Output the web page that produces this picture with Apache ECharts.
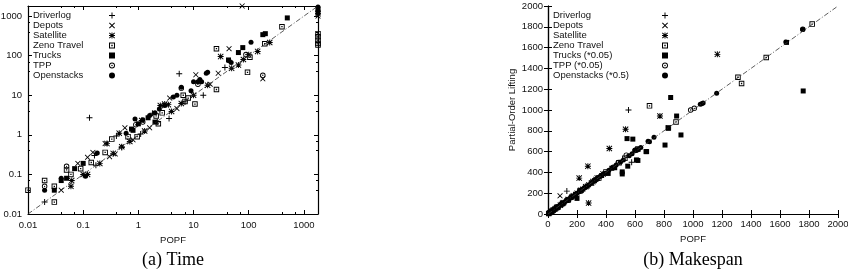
<!DOCTYPE html>
<html>
<head>
<meta charset="utf-8">
<title>POPF vs Partial-Order Lifting</title>
<script src="https://cdn.jsdelivr.net/npm/echarts@6/dist/echarts.min.js"></script>
<style>
  html, body { margin: 0; padding: 0; background: #fff; }
  #chart { width: 848px; height: 270px; }
</style>
</head>
<body>
<div id="chart"></div>
<script>
// (a) Time in seconds, pairs are [POPF, Partial-Order Lifting]
var timeDriverlog = [[0.02,0.02],[0.13,2.7],[0.16,0.3],[0.17,0.17],[0.4,0.94],[0.5,0.48],[1.1,1.05],[1.8,3.5],[2.2,2.1],[3.6,2.6],[5.5,35],[7,6.8],[15,10],[37,50]]
var timeDepots = [[0.04,0.04],[0.08,0.19],[0.12,0.27],[0.15,0.36],[0.25,0.6],[0.3,0.28],[0.38,0.33],[0.57,1.5],[0.8,0.75],[1.6,1.5],[3.7,8.5],[5,4.6],[11,33],[20,19],[28,36],[44,150],[76,1800],[180,26],[1800,1000]]
var timeSatellite = [[0.06,0.05],[0.062,0.07],[0.1,0.1],[0.12,0.1],[0.2,0.19],[0.27,0.6],[0.35,0.34],[0.45,1.1],[0.5,0.5],[0.7,0.68],[1.15,2.3],[1.3,1.25],[2.5,5.5],[3,6],[3.5,5.8],[4,3.9],[6,6.2],[10,10],[18,18],[31,95],[49,48],[65,58],[80,80],[100,105],[145,128],[240,215],[1800,1150]]
var timeZeno = [[0.01,0.04],[0.03,0.02],[0.02,0.07],[0.03,0.05],[0.05,0.13],[0.06,0.1],[0.09,0.14],[0.14,0.2],[0.25,0.36],[0.33,0.78],[0.65,0.9],[0.95,0.9],[2.1,3],[2.3,1.9],[2.7,3.6],[6.5,10],[7,7],[8,8.5],[10.6,6],[26,14],[26,150],[95,38],[105,91],[195,200],[400,540],[1800,360],[1800,300],[1800,245],[1800,203],[1800,185]]
var timeTrucks = [[0.03,0.04],[0.04,0.07],[0.05,0.08],[0.07,0.14],[0.1,0.19],[0.75,1.4],[0.8,1.3],[1,1.9],[1.5,2.7],[2,2.1],[43,78],[65,120],[78,160],[180,340],[200,360],[500,900],[1800,1260],[1800,1500]]
var timeTPP = [[0.02,0.05],[0.05,0.16],[0.9,1.8],[1.2,2.1],[6,15],[12,19],[89,107],[180,32]]
var timeOpenstacks = [[0.02,0.04],[0.04,0.08],[0.11,0.09],[0.18,0.35],[0.6,1.1],[0.87,2.5],[1.2,2.4],[1.6,3.1],[2,3.6],[2.4,4.5],[3,5.5],[4.3,9],[5,10],[6,16],[9,13],[10,22],[12,22],[13,25],[14,22],[17,36],[18,38],[44,74],[48,67],[110,220],[1800,1700]]

// (b) Makespan, pairs are [POPF, Partial-Order Lifting]
var spanDriverlog = [[8,9],[18,18],[30,32],[45,44],[60,60],[75,77],[80,70],[95,94],[120,118],[130,220],[150,152],[180,178],[210,212],[250,246],[300,300],[350,352],[555,1000],[577,497]]
var spanDepots = [[12,12],[25,24],[40,42],[55,55],[70,68],[83,175],[90,92],[110,110],[135,133],[165,168],[200,202],[240,240],[280,282],[330,333]]
var spanSatellite = [[20,20],[35,36],[50,50],[65,66],[85,84],[105,107],[140,140],[175,175],[215,345],[225,228],[260,262],[275,460],[280,105],[310,312],[340,345],[380,385],[423,630],[535,815],[772,942],[1168,1535]]
var spanZeno = [[5,5],[28,28],[60,62],[100,100],[140,138],[220,220],[300,298],[350,345],[400,405],[490,492],[530,535],[620,625],[700,1040],[830,830],[883,885],[1310,1315],[1335,1255],[1505,1505],[1822,1826]]
var spanTrucks = [[10,10],[22,22],[45,45],[70,70],[100,100],[130,130],[160,158],[190,190],[200,150],[230,228],[270,268],[320,320],[370,370],[415,390],[440,440],[460,445],[512,405],[512,385],[545,725],[550,460],[585,720],[610,520],[620,515],[676,600],[680,600],[807,663],[830,825],[846,1120],[887,942],[917,760],[1645,1650],[1760,1183]]
var spanTPP = [[15,15],[40,40],[95,95],[165,165],[250,250],[330,330],[450,450],[485,495],[540,565],[600,610],[610,612],[984,1000],[1009,1016],[1757,1776]]
var spanOpenstacks = [[3,3],[6,6],[12,13],[18,19],[24,25],[32,33],[38,38],[48,48],[55,56],[62,63],[72,72],[82,82],[92,92],[102,103],[115,115],[125,125],[145,145],[155,155],[170,170],[185,186],[200,200],[215,215],[235,235],[255,255],[280,280],[300,300],[320,322],[340,340],[360,360],[385,387],[400,395],[420,420],[445,445],[470,470],[500,500],[520,520],[560,560],[580,580],[600,615],[620,620],[640,640],[690,700],[700,695],[731,737],[1050,1055],[1060,1060],[1070,1068],[1163,1160],[1640,1655],[1757,1775]]

var namesTime = ['Driverlog', 'Depots', 'Satellite', 'Zeno Travel', 'Trucks', 'TPP', 'Openstacks']
var namesSpan = ['Driverlog', 'Depots', 'Satellite', 'Zeno Travel', 'Trucks (*0.05)', 'TPP (*0.05)', 'Openstacks (*0.5)']
var timeRange = [0.01, 1800]
var spanRange = [0, 2000]
var spanStep = 200

var FONT = '"Liberation Sans", Arial, Helvetica, sans-serif'

// gnuplot-like point types, drawn as filled outlines in a 10x10 box
var PLUS = 'M4.2,0H5.8V4.2H10V5.8H5.8V10H4.2V5.8H0V4.2H4.2Z'
var CROSS = 'M0,1.1L1.1,0L5,3.9L8.9,0L10,1.1L6.1,5L10,8.9L8.9,10L5,6.1L1.1,10L0,8.9L3.9,5Z'
var symbols = [
  'path://' + PLUS,
  'path://' + CROSS,
  'path://' + CROSS + PLUS,
  'path://M0,0H10V10H0Z M1.7,1.7V8.3H8.3V1.7Z M3.8,3.8H6.2V6.2H3.8Z',
  'rect',
  'path://M5,0A5,5,0,0,1,5,10A5,5,0,0,1,5,0Z M5,1.6A3.4,3.4,0,0,0,5,8.4A3.4,3.4,0,0,0,5,1.6Z M5,3.8A1.2,1.2,0,0,1,5,6.2A1.2,1.2,0,0,1,5,3.8Z',
  'circle'
]
var sizes = [6, 5.5, 6, 5.5, 5, 5.5, 5]

function logLabel(v) {
  return v < 1 ? String(Number(v.toPrecision(1))) : String(Math.round(v))
}

function axisCommon(extra) {
  var base = {
    axisLine: { show: true, lineStyle: { color: '#000', width: 1.2 } },
    axisTick: { show: true, inside: true, length: 4, lineStyle: { color: '#000', width: 1 } },
    axisLabel: { color: '#111', fontSize: 9.5, fontFamily: FONT },
    splitLine: { show: false },
    nameTextStyle: { color: '#111', fontSize: 9.5, fontFamily: FONT }
  }
  for (var k in extra) base[k] = extra[k]
  return base
}

function logAxis(gi, pos, labels) {
  return axisCommon({
    type: 'log', logBase: 10, gridIndex: gi, position: pos,
    min: timeRange[0], max: timeRange[1],
    minorTick: { show: true, splitNumber: 3, length: 2, lineStyle: { color: '#000' } },
    axisLabel: { show: labels, color: '#111', fontSize: 9.5, fontFamily: FONT, margin: 6,
      formatter: logLabel, showMaxLabel: false }
  })
}

function valAxis(gi, pos, labels) {
  return axisCommon({
    type: 'value', gridIndex: gi, position: pos,
    min: spanRange[0], max: spanRange[1], interval: spanStep,
    axisLabel: { show: labels, color: '#111', fontSize: 9.5, fontFamily: FONT, margin: 5,
      formatter: function (v) { return String(v) } }
  })
}

var xAxes = [
  logAxis(0, 'bottom', true),
  logAxis(0, 'top', false),
  valAxis(1, 'bottom', true),
  valAxis(1, 'top', false)
]
xAxes[0].name = 'POPF'; xAxes[0].nameLocation = 'middle'; xAxes[0].nameGap = 18
xAxes[2].name = 'POPF'; xAxes[2].nameLocation = 'middle'; xAxes[2].nameGap = 18

var yAxes = [
  logAxis(0, 'left', true),
  logAxis(0, 'right', false),
  valAxis(1, 'left', true),
  valAxis(1, 'right', false)
]
yAxes[2].name = 'Partial-Order Lifting'; yAxes[2].nameLocation = 'middle'; yAxes[2].nameGap = 31

function scatter(name, data, i, ai) {
  return {
    type: 'scatter', name: name, data: data,
    xAxisIndex: ai, yAxisIndex: ai,
    symbol: symbols[i], symbolSize: sizes[i],
    itemStyle: { color: '#000', opacity: 1 },
    silent: true
  }
}

function diagonal(range, ai) {
  return {
    type: 'line', data: [[range[0], range[0]], [range[1], range[1]]],
    xAxisIndex: ai, yAxisIndex: ai, symbol: 'none', silent: true,
    lineStyle: { color: '#333', width: 0.8, type: [5, 2, 1, 2] }
  }
}

var timeSets = [timeDriverlog, timeDepots, timeSatellite, timeZeno, timeTrucks, timeTPP, timeOpenstacks]
var spanSets = [spanDriverlog, spanDepots, spanSatellite, spanZeno, spanTrucks, spanTPP, spanOpenstacks]

var series = [diagonal(timeRange, 0), diagonal(spanRange, 2)]
timeSets.forEach(function (d, i) { series.push(scatter(namesTime[i], d, i, 0)) })
spanSets.forEach(function (d, i) { series.push(scatter(namesSpan[i], d, i, 2)) })

function legendText(names, left) {
  return {
    data: names, left: left, top: 10.5, orient: 'vertical', selectedMode: false,
    icon: 'none', itemWidth: 0, itemHeight: 0, itemGap: 0, padding: 0,
    textStyle: { color: '#111', fontSize: 9.5, lineHeight: 9, fontFamily: FONT }
  }
}

function legendIcons(names, left) {
  return {
    data: names, left: left, top: 10.5, orient: 'vertical', selectedMode: false,
    itemWidth: 6, itemHeight: 6, itemGap: 0, padding: 0,
    formatter: function () { return ' ' },
    textStyle: { fontSize: 9.5, lineHeight: 9, fontFamily: FONT }
  }
}

var chart = echarts.init(document.getElementById('chart'))
chart.setOption({
  animation: false,
  backgroundColor: '#fff',
  grid: [
    { left: 28, top: 6, width: 290, height: 208, outerBoundsMode: 'none' },
    { left: 548, top: 6, width: 290, height: 208, outerBoundsMode: 'none' }
  ],
  xAxis: xAxes,
  yAxis: yAxes,
  legend: [
    legendText(namesTime, 28),
    legendIcons(namesTime, 109),
    legendText(namesSpan, 548),
    legendIcons(namesSpan, 662)
  ],
  graphic: [
    { type: 'text', x: 173, y: 260, style: { text: '(a) Time', align: 'center', verticalAlign: 'middle',
      font: '18px "Liberation Serif", "Times New Roman", serif', fill: '#000' } },
    { type: 'text', x: 693, y: 260, style: { text: '(b) Makespan', align: 'center', verticalAlign: 'middle',
      font: '18px "Liberation Serif", "Times New Roman", serif', fill: '#000' } }
  ],
  series: series
})

window.onresize = function () {
  chart.resize()
}
</script>
</body>
</html>
